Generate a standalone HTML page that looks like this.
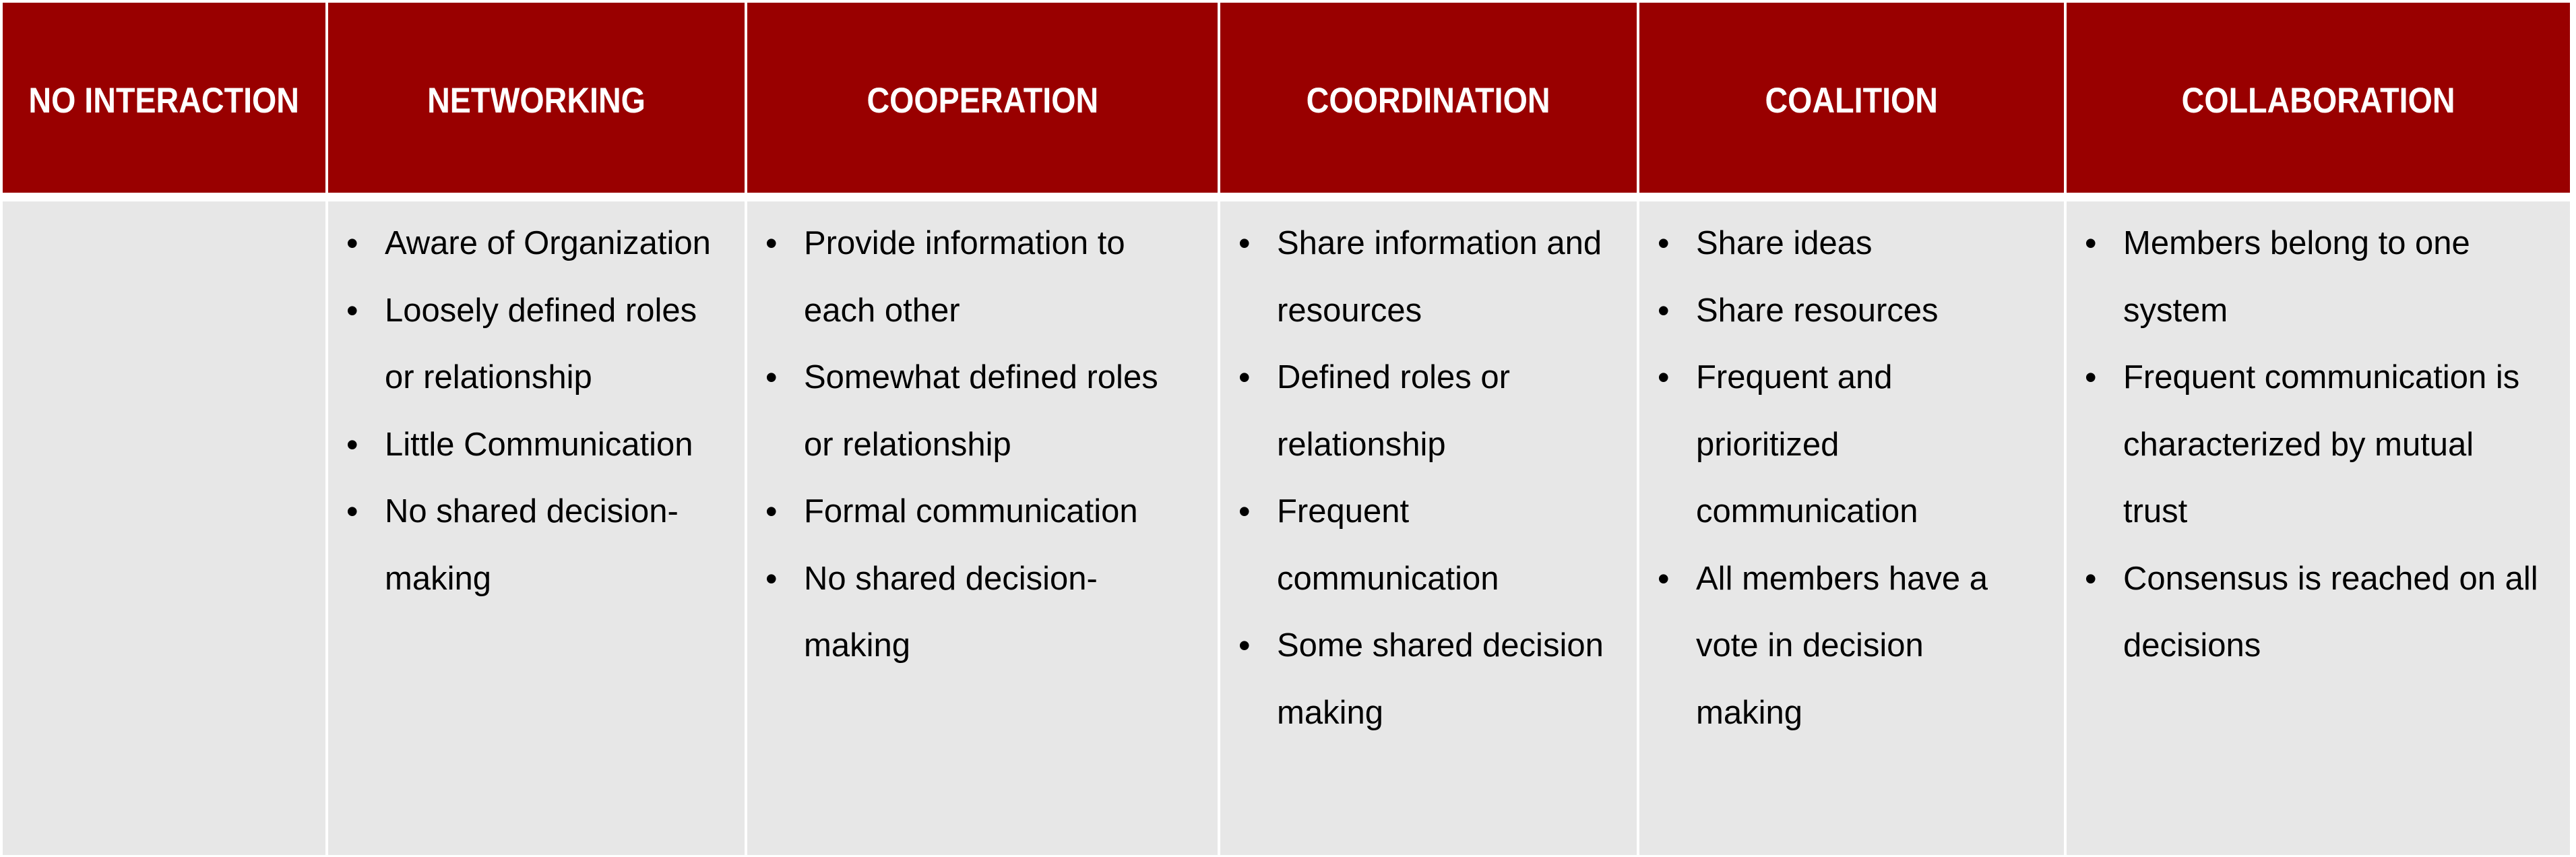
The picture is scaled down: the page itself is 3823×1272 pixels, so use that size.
<!DOCTYPE html>
<html><head><meta charset="utf-8">
<style>
html,body{margin:0;padding:0;background:#fff;}
body{width:3823px;height:1272px;position:relative;overflow:hidden;font-family:"Liberation Sans",sans-serif;}
.h{position:absolute;top:4px;height:282px;background:#990000;color:#fff;font-weight:bold;font-size:53px;display:flex;align-items:center;justify-content:center;}
.h span{display:inline-block;transform:scaleX(0.88);white-space:nowrap;position:relative;top:4px;}
.b{position:absolute;top:299px;height:970px;background:#e7e7e7;}
.ln{position:absolute;font-size:49px;line-height:99.5px;height:99.5px;white-space:nowrap;color:#000;letter-spacing:0px;}
.bu{position:absolute;font-size:50px;line-height:99.5px;height:99.5px;color:#000;}
</style></head><body>
<div id="root"></div>
<script>
const cols=[[4,483],[487,1105],[1109,1807],[1811,2429],[2433,3063],[3067,3814]];
const heads=["NO INTERACTION","NETWORKING","COOPERATION","COORDINATION","COALITION","COLLABORATION"];
const items=[
 [],
 [["Aware of Organization"],["Loosely defined roles","or relationship"],["Little Communication"],["No shared decision-","making"]],
 [["Provide  information to","each other"],["Somewhat defined roles","or relationship"],["Formal communication"],["No shared decision-","making"]],
 [["Share information and","resources"],["Defined roles or","relationship"],["Frequent","communication"],["Some shared decision","making"]],
 [["Share ideas"],["Share resources"],["Frequent and","prioritized","communication"],["All members have a","vote in decision","making"]],
 [["Members belong to one","system"],["Frequent  communication is","characterized by mutual","trust"],["Consensus is reached on all","decisions"]]
];
const root=document.body;
cols.forEach((c,i)=>{
 const h=document.createElement('div');h.className='h';
 h.style.left=c[0]+'px';h.style.width=(c[1]-c[0])+'px';
 
 
 h.innerHTML='<span>'+heads[i]+'</span>';
 root.appendChild(h);
 const b=document.createElement('div');b.className='b';
 b.style.left=c[0]+'px';b.style.width=(c[1]-c[0])+'px';
 
 
 root.appendChild(b);
 let row=0;
 items[i].forEach(it=>{
  const bu=document.createElement('div');bu.className='bu';bu.textContent='•';
  bu.style.left=(c[0]+27)+'px';bu.style.top=(312+row*99.5)+'px';
  
  
  root.appendChild(bu);
  it.forEach(t=>{
   const l=document.createElement('div');l.className='ln';l.textContent=t;
   l.style.left=(c[0]+84)+'px';l.style.top=(312+row*99.5)+'px';
   
   
   root.appendChild(l);row++;
  });
 });
});
</script>
</body></html>
